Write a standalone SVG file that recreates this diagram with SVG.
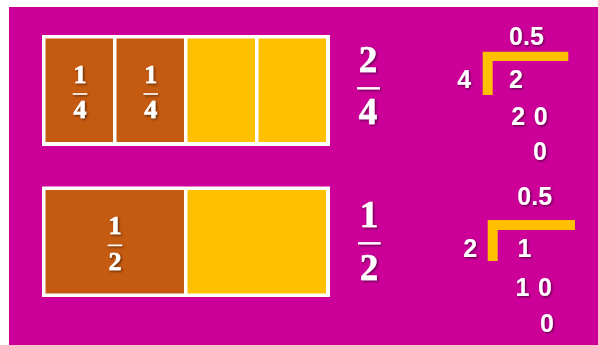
<svg xmlns="http://www.w3.org/2000/svg" width="598" height="345" viewBox="0 0 598 345">
<defs>
<filter id="sh" x="-20%" y="-20%" width="140%" height="140%">
<feDropShadow dx="1.2" dy="1.2" stdDeviation="0.8" flood-color="#000" flood-opacity="0.55"/>
</filter>
<style>
.bg{fill:#CC0099}
.frame{fill:#FFFFFF}
.brown{fill:#C55A11}
.yellow{fill:#FFC000}
.serif{font-family:"Liberation Serif","DejaVu Serif",serif;font-weight:bold;fill:#FFFFFF;stroke:#FFFFFF;stroke-width:0.6;text-anchor:middle}
.sm{font-size:26px}
.lg{font-size:37px}
.sans{font-family:"Liberation Sans","DejaVu Sans",sans-serif;font-weight:bold;font-size:25px;fill:#FFFFFF;text-anchor:middle}
.bar{stroke:#FFFFFF;stroke-width:1.6}
.barL{stroke:#FFFFFF;stroke-width:2.4}
.bracket{fill:#FFC000}
</style>
</defs>
<rect x="0" y="0" width="598" height="345" fill="#FFFFFF"/>
<rect class="bg" x="9" y="7" width="589" height="338"/>

<g id="quarters">
<rect class="frame" x="42" y="35" width="288" height="111"/>
<rect class="brown" x="45.5" y="38.5" width="67.5" height="103.5"/>
<rect class="brown" x="116.5" y="38.5" width="67.5" height="103.5"/>
<rect class="yellow" x="187.5" y="38.5" width="67.5" height="103.5"/>
<rect class="yellow" x="258.5" y="38.5" width="67.5" height="103.5"/>
<g filter="url(#sh)">
<text class="serif sm" x="80" y="83">1</text>
<line class="bar" x1="72.7" y1="94" x2="87.3" y2="94"/>
<text class="serif sm" x="80" y="118">4</text>
<text class="serif sm" x="150.7" y="83">1</text>
<line class="bar" x1="143.4" y1="94" x2="158" y2="94"/>
<text class="serif sm" x="150.7" y="118">4</text>
</g>
</g>

<g id="halves">
<rect class="frame" x="42" y="186.5" width="288" height="110.5"/>
<rect class="brown" x="45.5" y="190" width="138.5" height="103.5"/>
<rect class="yellow" x="187.5" y="190" width="138.5" height="103.5"/>
<g filter="url(#sh)">
<text class="serif sm" x="115" y="233.5">1</text>
<line class="bar" x1="107.7" y1="245.3" x2="122.3" y2="245.3"/>
<text class="serif sm" x="115" y="270">2</text>
</g>
</g>

<g id="frac-2-4" filter="url(#sh)">
<text class="serif lg" x="368" y="71.7">2</text>
<line class="barL" x1="357" y1="88.3" x2="380" y2="88.3"/>
<text class="serif lg" x="368" y="124">4</text>
</g>

<g id="frac-1-2" filter="url(#sh)">
<text class="serif lg" x="369" y="226.7">1</text>
<line class="barL" x1="358" y1="243.3" x2="380.7" y2="243.3"/>
<text class="serif lg" x="369" y="280">2</text>
</g>

<g id="division-top">
<path class="bracket" d="M482.7,51.7 H568.3 V61 H492.7 V95 H482.7 Z"/>
<g filter="url(#sh)">
<text class="sans" x="526.5" y="45">0.5</text>
<text class="sans" x="464.3" y="88.3">4</text>
<text class="sans" x="516" y="88.3">2</text>
<text class="sans" x="518.3" y="125">2</text>
<text class="sans" x="540.7" y="125">0</text>
<text class="sans" x="540" y="160">0</text>
</g>
</g>

<g id="division-bottom">
<path class="bracket" d="M487.7,220 H575 V230 H497.7 V261 H487.7 Z"/>
<g filter="url(#sh)">
<text class="sans" x="534.7" y="205">0.5</text>
<text class="sans" x="470.3" y="257">2</text>
<text class="sans" x="524.5" y="257">1</text>
<text class="sans" x="522.5" y="296">1</text>
<text class="sans" x="545" y="296">0</text>
<text class="sans" x="547" y="331.5">0</text>
</g>
</g>
</svg>
